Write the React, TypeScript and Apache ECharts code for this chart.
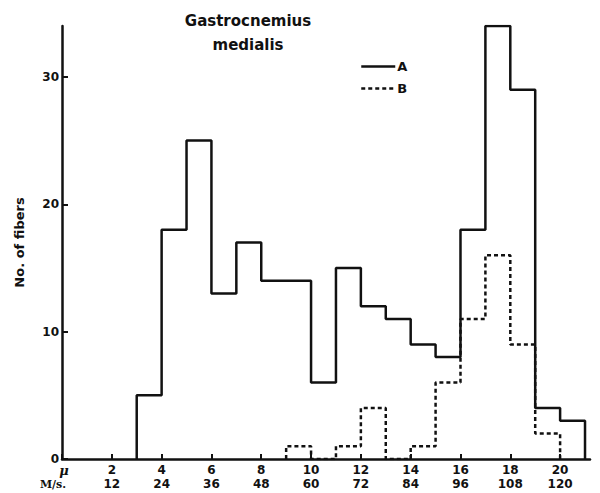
import React, { useEffect, useRef } from "react";
import * as echarts from "echarts";

// Histogram bins (fiber diameter in μ), bin width 1 μ
const binWidth = 1;
const binStartsA = [3, 4, 5, 6, 7, 8, 9, 10, 11, 12, 13, 14, 15, 16, 17, 18, 19, 20];
const countsA = [5, 18, 25, 13, 17, 14, 14, 6, 15, 12, 11, 9, 8, 18, 34, 29, 4, 3];
const binStartsB = [9, 10, 11, 12, 13, 14, 15, 16, 17, 18, 19];
const countsB = [1, 0, 1, 4, 0, 1, 6, 11, 16, 9, 2];

// Axis tick labels
const muTicks = [0, 2, 4, 6, 8, 10, 12, 14, 16, 18, 20];
const msTicks = [0, 12, 24, 36, 48, 60, 72, 84, 96, 108, 120];
const yTicks = [0, 10, 20, 30];

const titleText = "Gastrocnemius\nmedialis";
const yName = "No. of fibers";

function stepData(starts: number[], counts: number[], width: number) {
  const pts: number[][] = [[starts[0], 0]];
  starts.forEach((s, i) => pts.push([s, counts[i]]));
  pts.push([starts[starts.length - 1] + width, 0]);
  return pts;
}

const FONT = "DejaVu Sans";

export default function App() {
  const ref = useRef<HTMLDivElement>(null);
  useEffect(() => {
    if (!ref.current) return;
    const chart = echarts.init(ref.current, null, { renderer: "svg" });
    chart.setOption({
      animation: false,
      backgroundColor: "#ffffff",
      title: {
        text: titleText,
        left: 243,
        top: 4,
        textAlign: "center",
        textStyle: {
          fontFamily: FONT,
          fontSize: 15,
          fontWeight: "bold",
          color: "#111",
          lineHeight: 24,
        },
      },
      legend: {
        data: ["A", "B"],
        orient: "vertical",
        left: 360,
        top: 60,
        itemWidth: 34,
        itemHeight: 14,
        itemGap: 9,
        padding: 0,
        itemStyle: { opacity: 0 },
        lineStyle: { width: 2.5 },
        textStyle: { fontFamily: FONT, fontSize: 13, fontWeight: "bold", color: "#111", padding: [0, 0, 0, -3] },
      },
      grid: { left: 62, right: 10, top: 26, bottom: 34 },
      xAxis: {
        type: "value",
        min: 0,
        max: 21.2,
        axisLine: { show: true, onZero: false, lineStyle: { color: "#111", width: 2.5 } },
        axisTick: {
          show: true,
          inside: true,
          length: 5,
          customValues: muTicks,
          lineStyle: { color: "#111", width: 2 },
        },
        axisLabel: {
          show: true,
          customValues: muTicks,
          margin: 4,
          color: "#111",
          fontFamily: FONT,
          fontSize: 12,
          fontWeight: "bold",
          lineHeight: 14,
          formatter: (v: number) => {
            const i = muTicks.indexOf(v);
            if (i < 0) return "";
            if (v === 0) return "{mu|μ}\n{ms|M/s.}";
            return `${muTicks[i]}\n${msTicks[i]}`;
          },
          rich: {
            mu: { fontFamily: "DejaVu Serif", fontStyle: "italic", fontWeight: "bold", fontSize: 13, lineHeight: 14, color: "#111", padding: [0, 0, 0, 4] },
            ms: { fontFamily: "DejaVu Serif", fontWeight: "bold", fontSize: 11, lineHeight: 14, color: "#111", padding: [0, 18, 0, 0] },
          },
        },
        splitLine: { show: false },
      },
      yAxis: {
        type: "value",
        min: 0,
        max: 34,
        name: yName,
        nameLocation: "middle",
        nameGap: 36,
        nameRotate: 90,
        nameTextStyle: { fontFamily: FONT, fontSize: 13, fontWeight: "bold", color: "#111" },
        axisLine: { show: true, lineStyle: { color: "#111", width: 2.5 } },
        axisTick: {
          show: true,
          inside: true,
          length: 6,
          customValues: yTicks,
          lineStyle: { color: "#111", width: 2 },
        },
        axisLabel: {
          customValues: yTicks,
          margin: 3,
          color: "#111",
          fontFamily: FONT,
          fontSize: 12,
          fontWeight: "bold",
        },
        splitLine: { show: false },
      },
      series: [
        {
          name: "A",
          type: "line",
          step: "end",
          symbol: "none",
          data: stepData(binStartsA, countsA, binWidth),
          lineStyle: { color: "#111", width: 2.5, type: "solid" },
          itemStyle: { color: "#111" },
          z: 3,
        },
        {
          name: "B",
          type: "line",
          step: "end",
          symbol: "none",
          data: stepData(binStartsB, countsB, binWidth),
          lineStyle: { color: "#111", width: 2.5, type: [4, 3] },
          itemStyle: { color: "#111" },
          z: 2,
        },
      ],
    });
    return () => chart.dispose();
  }, []);
  return (
    <div
      ref={ref}
      style={{ position: "absolute", left: 0, top: 0, width: 600, height: 493 }}
    />
  );
}
